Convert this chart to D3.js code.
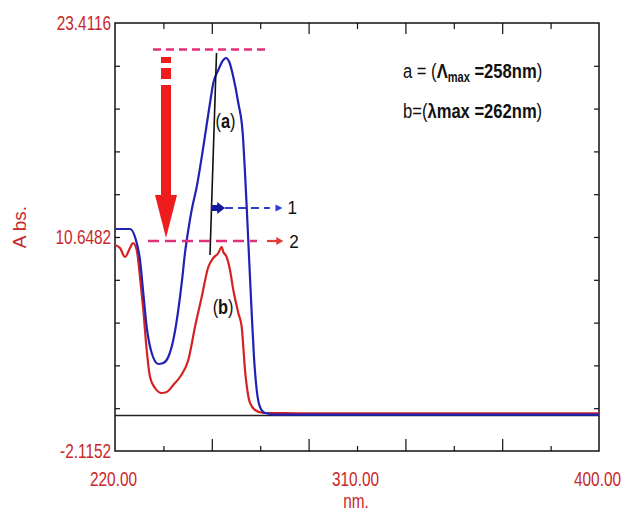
<!DOCTYPE html>
<html><head><meta charset="utf-8">
<script src="https://cdn.jsdelivr.net/npm/d3@7"></script>
<style>body{margin:0;background:#fff}svg{display:block}</style>
</head><body><svg id="c" width="624" height="514"></svg>
<script>
// ---- data (nm, absorbance) ----
const blueNm  = [220,225.58,227.44,229.30,230.52,231.79,233.65,236.10,237.96,239.82,241.68,243.54,244.81,246.03,247.26,248.52,250.38,252.84,255.33,256.56,258.42,260.28,261.28,262.51,264.00,265.86,267.49,268.35,268.98,269.95,270.84,271.69,272.70,273.93,275.79,280.14,290,320,350,380,400];
const blueAbs = [11.125,11.125,10.648,9.276,7.308,5.281,3.730,3.074,3.134,3.491,4.505,6.294,7.905,9.694,11.066,12.259,13.630,16.016,18.640,19.833,20.609,21.205,21.325,21.086,20.191,18.640,16.851,14.465,12.437,9.097,6.115,3.491,1.523,0.509,0.151,0.05,0.05,0.05,0.05,0.05,0.05];
const redNm   = [220,221.86,223.72,225.58,226.69,228.07,229.30,230.52,231.79,233.02,234.88,237.37,239.23,241.68,244.17,247.26,249.75,252.24,254.70,256.56,258.42,259.68,260.28,261.54,262.77,264.00,265.86,267.12,267.72,268.35,269.20,270.21,272.07,275.16,277.64,290,320,350,380,400];
const redAbs  = [10.171,9.992,9.455,9.992,10.290,9.873,8.262,6.294,3.909,2.298,1.642,1.344,1.403,1.821,2.298,3.312,5.281,7.070,8.860,9.396,9.694,10.052,9.753,9.455,8.680,7.487,6.115,5.281,4.088,2.716,1.523,0.748,0.330,0.151,0.15,0.13,0.13,0.13,0.13,0.13];
const xTickLabels = [220, 310, 400];
const yTickLabels = [-2.1152, 10.6482, 23.4116];
const xMajorTicks = [256, 292, 328, 364];
const xMinorTicks = [238, 274, 310, 346, 382];
const yMinorTicks = [0.4375,2.9902,5.5428,8.0955,10.6482,13.2009,15.7536,18.3062,20.8589];
// annotations (data units)
const topDash = {x0:234.13, x1:276.53, y:21.83};
const line2 = {x0:232.27, x1:272.81, rx0:276.53, rx1:280.3, tip:282.6, y:10.41, label:"2"};
const line1 = {x0:255.7, xh:258.0, x1:260.9, dx1:277.6, tip:282.3, y:12.378, label:"1"};
const tangent = [[257.75,21.62],[255.33,9.574]];
const bigArrow = {x:238.97, r1:[21.384,21.026], r2:[20.728,20.072], shaft:[19.714,13.153], tip:10.589};

const svg = d3.select("#c");
const L=115,R=599,T=23,B=451;
const x = d3.scaleLinear().domain([220,400]).range([L,R]);
const y = d3.scaleLinear().domain([-2.1152,23.4116]).range([B,T]);
const red = "#c8282b";
const sans = '"Liberation Sans",Arial,sans-serif';
const SX = 0.77;

function tickAxis(axis, tr){
  const g = svg.append("g").attr("transform",tr).call(axis);
  g.select(".domain").remove();
  g.selectAll("line").attr("stroke","#111").attr("stroke-width",1.2);
  g.selectAll("text").remove();
  return g;
}
tickAxis(d3.axisTop(x).tickValues(xMajorTicks).tickSize(-11), `translate(0,${T})`);
tickAxis(d3.axisTop(x).tickValues(xMinorTicks).tickSize(-6), `translate(0,${T})`);
tickAxis(d3.axisBottom(x).tickValues(xMajorTicks).tickSize(-12), `translate(0,${B})`);
tickAxis(d3.axisBottom(x).tickValues(xMinorTicks).tickSize(-5), `translate(0,${B})`);
tickAxis(d3.axisLeft(y).tickValues(yMinorTicks).tickSize(-5), `translate(${L},0)`);
tickAxis(d3.axisRight(y).tickValues(yMinorTicks).tickSize(-5), `translate(${R},0)`);

// labels
const xl = svg.append("g").attr("transform",`translate(-2,${B})`)
  .call(d3.axisBottom(x).tickValues(xTickLabels).tickSize(0).tickPadding(21).tickFormat(d3.format(".2f")));
xl.select(".domain").remove();
xl.selectAll("text").attr("fill",red).style("font-family",sans).style("font-size","20px").attr("transform",`scale(${SX},1)`);
const yl = svg.append("g").attr("transform",`translate(${L},0)`)
  .call(d3.axisLeft(y).tickValues(yTickLabels).tickSize(0).tickPadding(5).tickFormat(d=>d.toFixed(4)));
yl.select(".domain").remove();
yl.selectAll("text").attr("fill",red).style("font-family",sans).style("font-size","20px").attr("transform",`scale(${SX},1)`);

svg.append("text").attr("transform",`translate(356,508) scale(${SX},1)`).attr("text-anchor","middle")
  .attr("fill",red).style("font-family",sans).style("font-size","20px").text("nm.");
svg.append("text").attr("transform",`translate(26,227) rotate(-90)`).attr("text-anchor","middle")
  .attr("fill",red).style("font-family",sans).style("font-size","19px").text("A bs.");

// frame
svg.append("rect").attr("x",L).attr("y",T).attr("width",R-L).attr("height",B-T)
  .attr("fill","none").attr("stroke","#111").attr("stroke-width",1.5);
// zero line
svg.append("line").attr("x1",L).attr("x2",R).attr("y1",y(0)).attr("y2",y(0))
  .attr("stroke","#222").attr("stroke-width",1.5);

// curves
const line = d3.line().x(d=>x(d[0])).y(d=>y(d[1])).curve(d3.curveMonotoneX);
svg.append("path").datum(redNm.map((n,i)=>[n,redAbs[i]])).attr("d",line)
  .attr("fill","none").attr("stroke","#d42222").attr("stroke-width",2.2);
svg.append("path").datum(blueNm.map((n,i)=>[n,blueAbs[i]])).attr("d",line)
  .attr("fill","none").attr("stroke","#1f22b4").attr("stroke-width",2.2);

// tangent line
svg.append("line").attr("x1",x(tangent[0][0])).attr("y1",y(tangent[0][1]))
  .attr("x2",x(tangent[1][0])).attr("y2",y(tangent[1][1])).attr("stroke","#111").attr("stroke-width",1.6);

// top dashed
const pink = "#e0307a";
svg.append("line").attr("x1",x(topDash.x0)).attr("x2",x(topDash.x1)).attr("y1",y(topDash.y)).attr("y2",y(topDash.y))
  .attr("stroke",pink).attr("stroke-width",2.4).attr("stroke-dasharray","8,5");
// line 2
svg.append("line").attr("x1",x(line2.x0)).attr("x2",x(line2.x1)).attr("y1",y(line2.y)).attr("y2",y(line2.y))
  .attr("stroke",pink).attr("stroke-width",2.4).attr("stroke-dasharray","11,6");
svg.append("line").attr("x1",x(line2.rx0)).attr("x2",x(line2.rx1)).attr("y1",y(line2.y)).attr("y2",y(line2.y))
  .attr("stroke","#e03a3a").attr("stroke-width",2.2);
{ const tx=x(line2.tip), ty=y(line2.y);
  svg.append("path").attr("d",`M${tx},${ty} L${tx-7},${ty-4} L${tx-7},${ty+4} Z`).attr("fill","#e03a3a"); }
svg.append("text").attr("transform",`translate(${x(line2.tip)+6},${y(line2.y)+7}) scale(0.9,1)`).attr("fill","#111")
  .style("font-family",sans).style("font-size","19px").text(line2.label);
// line 1
{ const yy=y(line1.y);
  svg.append("rect").attr("x",x(line1.x0)).attr("y",yy-3).attr("width",x(line1.xh)-x(line1.x0)+1).attr("height",6).attr("fill","#141a9c");
  svg.append("path").attr("d",`M${x(line1.xh)},${yy-6} L${x(line1.x1)},${yy} L${x(line1.xh)},${yy+6} Z`).attr("fill","#141a9c");
  svg.append("line").attr("x1",x(line1.x1)).attr("x2",x(line1.dx1)).attr("y1",yy).attr("y2",yy)
    .attr("stroke","#2a3fd0").attr("stroke-width",1.8).attr("stroke-dasharray","8,5");
  const tx=x(line1.tip);
  svg.append("path").attr("d",`M${tx},${yy} L${tx-7},${yy-3.5} L${tx-7},${yy+3.5} Z`).attr("fill","#2a3fd0");
  svg.append("text").attr("transform",`translate(${tx+5},${yy+6}) scale(0.9,1)`).attr("fill","#111")
    .style("font-family",sans).style("font-size","19px").text(line1.label);
}
// big red arrow
{ const cx=x(bigArrow.x), hw=5, hh=11, col="#ee1c1c";
  svg.append("rect").attr("x",cx-hw).attr("y",y(bigArrow.r1[0])).attr("width",2*hw).attr("height",y(bigArrow.r1[1])-y(bigArrow.r1[0])).attr("fill",col);
  svg.append("rect").attr("x",cx-hw).attr("y",y(bigArrow.r2[0])).attr("width",2*hw).attr("height",y(bigArrow.r2[1])-y(bigArrow.r2[0])).attr("fill",col);
  svg.append("rect").attr("x",cx-hw).attr("y",y(bigArrow.shaft[0])).attr("width",2*hw).attr("height",y(bigArrow.shaft[1])-y(bigArrow.shaft[0])).attr("fill",col);
  const hb=y(bigArrow.shaft[1]);
  svg.append("path").attr("d",`M${cx-hh},${hb} L${cx+hh},${hb} L${cx},${y(bigArrow.tip)} Z`).attr("fill",col);
}

// curve labels
function paren(px,py,letter){
  const t=svg.append("text").attr("transform",`translate(${px},${py}) scale(0.82,1)`).attr("text-anchor","middle").attr("fill","#111")
    .style("font-family",sans).style("font-size","20px");
  t.append("tspan").text("(");
  t.append("tspan").attr("font-weight","bold").text(letter);
  t.append("tspan").text(")");
}
paren(x(261.1), y(17.15), "a");
paren(x(260.2), y(6.056), "b");

// legend
{ const t=svg.append("text").attr("transform","translate(403,78) scale(0.79,1)").attr("fill","#111")
    .style("font-family",sans).style("font-size","21px");
  t.append("tspan").text("a = (");
  t.append("tspan").attr("font-weight","bold").text("\u039B");
  t.append("tspan").attr("font-weight","bold").attr("font-size","14px").attr("dy",4).text("max");
  t.append("tspan").attr("font-weight","bold").attr("dy",-4).text(" =258nm");
  t.append("tspan").text(")");
  const u=svg.append("text").attr("transform","translate(403,118) scale(0.79,1)").attr("fill","#111")
    .style("font-family",sans).style("font-size","21px");
  u.append("tspan").text("b=(");
  u.append("tspan").attr("font-weight","bold").text("\u03BBmax =262nm");
  u.append("tspan").text(")");
}
</script></body></html>
